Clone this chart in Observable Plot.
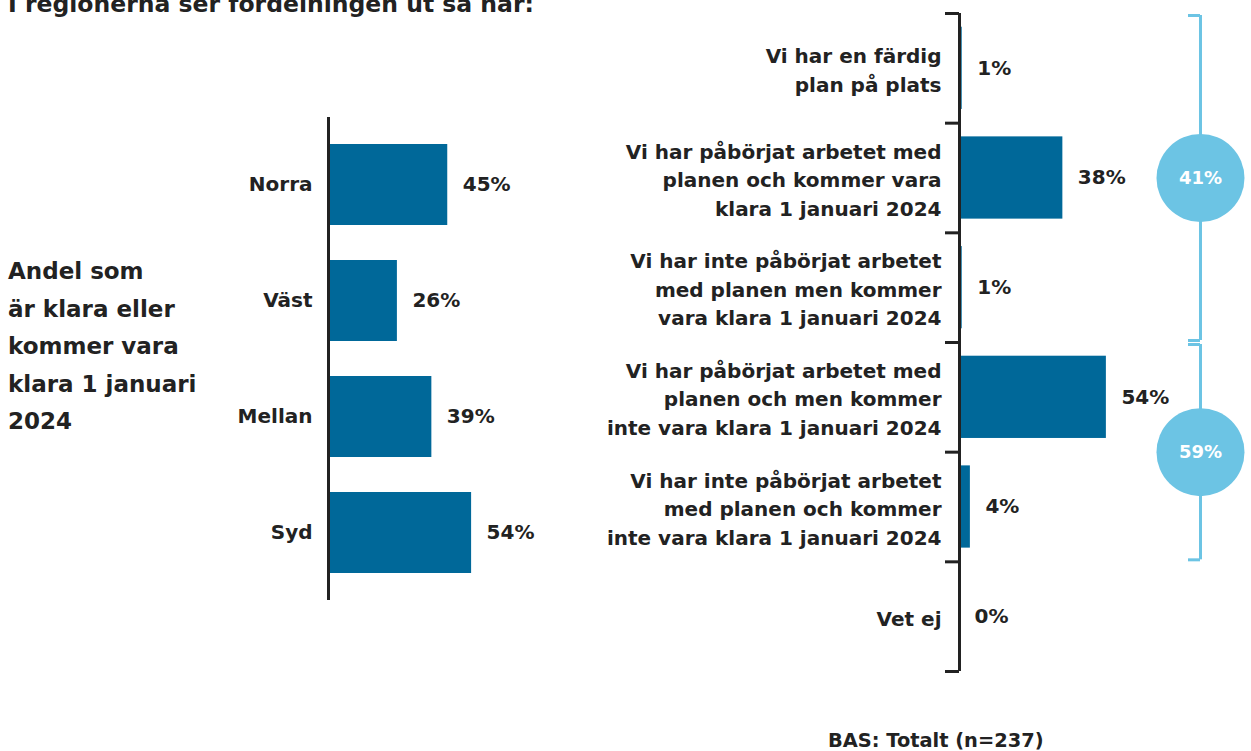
<!DOCTYPE html>
<html><head><meta charset="utf-8">
<script src="https://cdn.jsdelivr.net/npm/d3@7"></script>
<script src="https://cdn.jsdelivr.net/npm/@observablehq/plot@0.6"></script>
<style>
body{margin:0;background:#fff;}
#wrap{position:relative;width:1251px;height:751px;overflow:hidden;font-family:"DejaVu Sans",sans-serif;color:#222;}
.abs{position:absolute;}
#title{left:8px;top:-7px;font-size:23.5px;font-weight:700;line-height:1;white-space:nowrap;}
#side{left:8px;top:253px;font-size:23px;font-weight:700;line-height:37.5px;}
#foot{left:828px;top:731px;font-size:19.4px;font-weight:700;line-height:1;white-space:nowrap;}
#left,#right{left:0;top:0;}
svg{overflow:visible}
</style></head><body>
<div id="wrap">
  <div id="left" class="abs"></div>
  <div id="right" class="abs"></div>
  <div id="title" class="abs"></div>
  <div id="side" class="abs"></div>
  <div id="foot" class="abs"></div>
</div>
<script>
// ---- data ----
const titleText = "I regionerna ser fördelningen ut så här:";
const sideTitleLines = ["Andel som", "är klara eller", "kommer vara", "klara 1 januari", "2024"];
const footnote = "BAS: Totalt (n=237)";

const regions = ["Norra", "Väst", "Mellan", "Syd"];
const regionValues = [45, 26, 39, 54];

const answers = [
  "Vi har en färdig\nplan på plats",
  "Vi har påbörjat arbetet med\nplanen och kommer vara\nklara 1 januari 2024",
  "Vi har inte påbörjat arbetet\nmed planen men kommer\nvara klara 1 januari 2024",
  "Vi har påbörjat arbetet med\nplanen och men kommer\ninte vara klara 1 januari 2024",
  "Vi har inte påbörjat arbetet\nmed planen och kommer\ninte vara klara 1 januari 2024",
  "Vet ej"
];
const answerValues = [1, 38, 1, 54, 4, 0];

const groupLabels = ["41%", "59%"];
const groupStart = [0, 3];   // first answer index in group
const groupEnd = [3, 5];     // index after last answer in group

// ---- styles ----
const BAR = "#006899";
const INK = "#222222";
const LIGHT = "#6cc4e4";
const FONT = "'DejaVu Sans', sans-serif";
const FS = 20;

document.getElementById("title").textContent = titleText;
document.getElementById("side").innerHTML = sideTitleLines.join("<br>");
document.getElementById("foot").textContent = footnote;

const regionData = regions.map((r, i) => ({region: r, value: regionValues[i]}));
const answerData = answers.map((a, i) => ({label: a, value: answerValues[i], i}));
const groupData = groupLabels.map((g, i) => ({label: g, start: groupStart[i], end: groupEnd[i], mid: (groupStart[i] + groupEnd[i]) / 2}));

const left = Plot.plot({
  width: 640, height: 751,
  marginLeft: 328, marginRight: 47, marginTop: 125, marginBottom: 159,
  style: {fontFamily: FONT, background: "transparent"},
  x: {domain: [0, 100], axis: null},
  y: {type: "band", domain: regions, paddingInner: 0.3, paddingOuter: 0.15, axis: null},
  marks: [
    Plot.barX(regionData, {x: "value", y: "region", fill: BAR}),
    Plot.ruleX([0], {stroke: INK, strokeWidth: 3, insetTop: -8, insetBottom: -8}),
    Plot.text(regionData, {x: "value", y: "region", text: d => d.value + "%", dx: 15, textAnchor: "start", fontSize: FS, fontWeight: 700, fill: INK}),
    Plot.text(regionData, {x: 0, y: "region", text: "region", dx: -16, textAnchor: "end", fontSize: FS, fontWeight: 700, fill: INK})
  ]
});
document.getElementById("left").appendChild(left);

const bracketX = 88.6;
const right = Plot.plot({
  width: 1251, height: 751,
  marginLeft: 959, marginRight: 20, marginTop: 13, marginBottom: 80,
  style: {fontFamily: FONT, background: "transparent"},
  x: {domain: [0, 100], axis: null},
  y: {domain: [0, answers.length], reverse: true, axis: null},
  marks: [
    Plot.rectX(answerData, {x1: 0, x2: "value", y1: d => d.i + 0.125, y2: d => d.i + 0.875, fill: BAR}),
    Plot.ruleX([0], {stroke: INK, strokeWidth: 3}),
    Plot.ruleY(d3.range(answers.length + 1), {x1: 0, x2: 0, insetLeft: -14, stroke: INK, strokeWidth: 3}),
    Plot.text(answerData, {x: "value", y: d => d.i + 0.5, text: d => d.value + "%", dx: 15, textAnchor: "start", fontSize: FS, fontWeight: 700, fill: INK}),
    Plot.text(answerData, {x: 0, y: d => d.i + 0.5, text: "label", dx: -18, textAnchor: "end", lineHeight: 1.43, fontSize: FS, fontWeight: 700, fill: INK}),
    Plot.ruleX(groupData, {x: bracketX, y1: "start", y2: "end", insetTop: 2, insetBottom: 2, stroke: LIGHT, strokeWidth: 3}),
    Plot.ruleY(groupData, {y: "start", x1: bracketX, x2: bracketX, insetLeft: -12, dy: 2, stroke: LIGHT, strokeWidth: 3}),
    Plot.ruleY(groupData, {y: "end", x1: bracketX, x2: bracketX, insetLeft: -12, dy: -2, stroke: LIGHT, strokeWidth: 3}),
    Plot.dot(groupData, {x: bracketX, y: "mid", r: 44, fill: LIGHT, stroke: null}),
    Plot.text(groupData, {x: bracketX, y: "mid", text: "label", fill: "white", fontSize: 18, fontWeight: 700})
  ]
});
document.getElementById("right").appendChild(right);
</script>
</body></html>
